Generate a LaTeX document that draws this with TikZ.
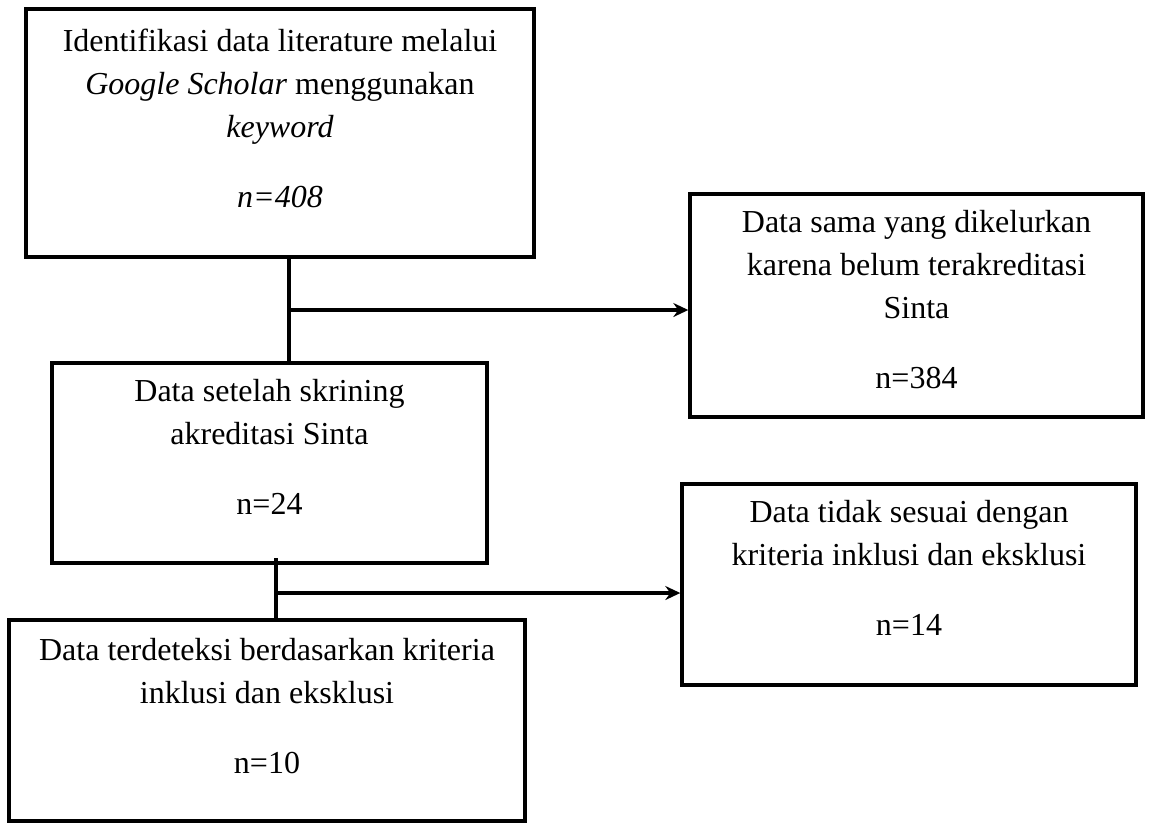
\documentclass[tikz,border=0pt]{standalone}
\usepackage{fontspec}
\setmainfont{Liberation Serif}
\usetikzlibrary{arrows.meta}
\begin{document}
\begin{tikzpicture}[x=1pt,y=-1pt,
  box/.style={draw=black, line width=3.4pt, rectangle, inner sep=0pt, fill=none},
  txt/.style={align=center, inner sep=0pt, anchor=north, font=\fontsize{32}{43}\selectfont},
  conn/.style={line width=3.3pt, draw=black},
  arr/.style={conn, -{Stealth[length=15pt,width=14pt,inset=5pt]}}]
\useasboundingbox (0,0) rectangle (1150,823);
% boxes
\node[box, minimum width=508pt, minimum height=248pt] (b1) at (280,133) {};
\node[box, minimum width=453pt, minimum height=223pt] (b2) at (916.5,305.5) {};
\node[box, minimum width=435pt, minimum height=200pt] (b3) at (269.5,463) {};
\node[box, minimum width=454pt, minimum height=201pt] (b4) at (909,584.5) {};
\node[box, minimum width=516pt, minimum height=201pt] (b5) at (267,720.5) {};
% texts
\node[txt] (t1) at ([yshift=-21pt]b1.north) {Identifikasi data literature melalui\\\textit{Google Scholar} menggunakan\\\textit{keyword}\\[27pt]\textit{n=408}};
\node[txt] (t2) at ([yshift=-18pt]b2.north) {Data sama yang dikelurkan\\karena belum terakreditasi\\Sinta\\[27pt]n=384};
\node[txt] (t3) at ([yshift=-18pt]b3.north) {Data setelah skrining\\akreditasi Sinta\\[27pt]n=24};
\node[txt] (t4) at ([yshift=-18pt]b4.north) {Data tidak sesuai dengan\\kriteria inklusi dan eksklusi\\[27pt]n=14};
\node[txt] (t5) at ([yshift=-20pt]b5.north) {Data terdeteksi berdasarkan kriteria\\inklusi dan eksklusi\\[27pt]n=10};
% connectors
\coordinate (j1) at (289,310);
\coordinate (j2) at (276,593);
\coordinate (s2) at (276,558);
\draw[conn] (b1.south -| j1) -- (b3.north -| j1);
\draw[arr] (j1) -- (b2.west |- j1);
\draw[conn] (s2) -- (b5.north -| j2);
\draw[arr] (j2) -- (b4.west |- j2);
\end{tikzpicture}
\end{document}
